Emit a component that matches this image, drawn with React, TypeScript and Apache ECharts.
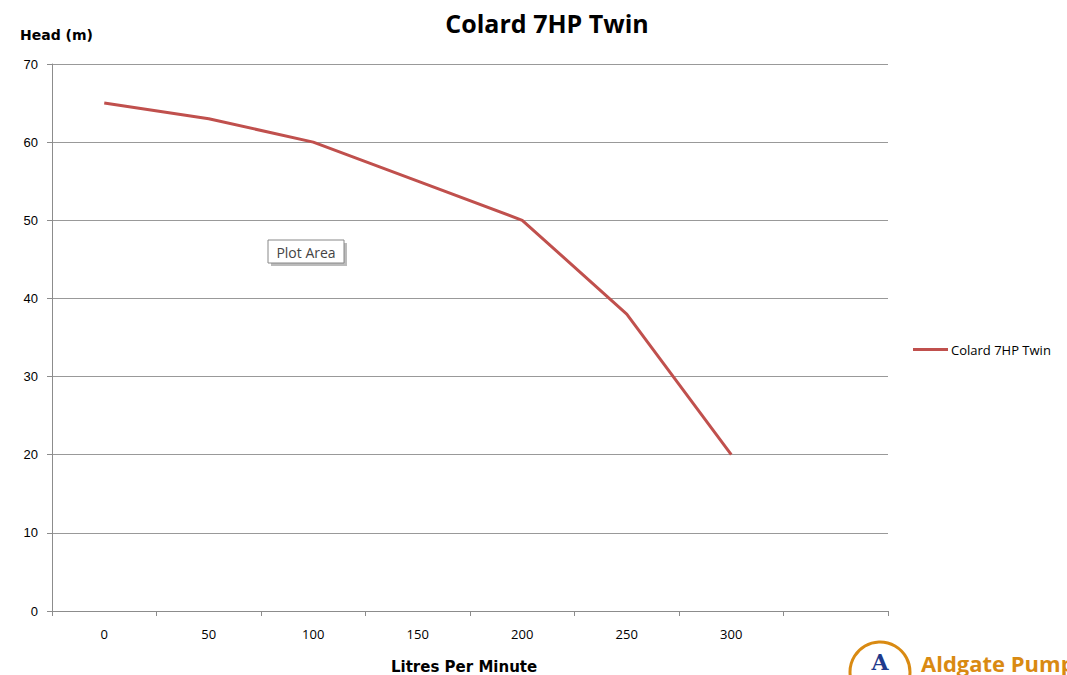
import React, { useEffect, useRef } from "react";
import * as echarts from "echarts";

const categories = ["0", "50", "100", "150", "200", "250", "300", ""];
const headValues = [65, 63, 60, 55, 50, 38, 20];
const seriesName = "Colard 7HP Twin";
const titleText = "Colard 7HP Twin";
const yAxisName = "Head (m)";
const xAxisName = "Litres Per Minute";

export default function App() {
  const ref = useRef<HTMLDivElement>(null);
  useEffect(() => {
    if (!ref.current) return;
    const chart = echarts.init(ref.current, undefined, { renderer: "svg" });
    chart.setOption({
      animation: false,
      backgroundColor: "#ffffff",
      title: {
        text: titleText,
        left: 547,
        textAlign: "center",
        top: 10,
        padding: 0,
        textStyle: { fontFamily: "Open Sans", fontWeight: "bold", fontSize: 25, color: "#000" },
      },
      legend: {
        data: [seriesName],
        left: 913,
        top: 343,
        padding: 0,
        icon: "rect",
        itemWidth: 35,
        itemHeight: 3,
        itemGap: 4,
        textStyle: { fontFamily: "Open Sans", fontSize: 13, color: "#000", padding: [0, 0, 0, -2] },
      },
      grid: { left: 52, right: 179, top: 64, bottom: 64, containLabel: false },
      graphic: [
        {
          type: "text",
          left: 20,
          top: 28,
          style: { text: yAxisName, font: "bold 14px 'DejaVu Sans'", fill: "#000" },
        },
        {
          type: "text",
          left: 391,
          top: 659,
          style: { text: xAxisName, font: "bold 15px 'DejaVu Sans'", fill: "#000" },
        },
        {
          type: "rect",
          shape: { x: 271, y: 243, width: 76, height: 23 },
          style: { fill: "#bbbbbb" },
        },
        {
          type: "rect",
          shape: { x: 268, y: 240, width: 76, height: 23 },
          style: { fill: "#ffffff", stroke: "#888888", lineWidth: 1 },
        },
        {
          type: "text",
          x: 306,
          y: 252,
          style: { text: "Plot Area", font: "14px 'Open Sans'", fill: "#444", align: "center", verticalAlign: "middle" },
        },
        {
          type: "circle",
          shape: { cx: 880, cy: 672, r: 30 },
          style: { fill: "#ffffff", stroke: "#d98a12", lineWidth: 3 },
        },
        {
          type: "text",
          x: 880,
          y: 662,
          style: { text: "A", font: "bold 22px 'DejaVu Serif'", fill: "#1f3a8c", align: "center", verticalAlign: "middle" },
        },
        {
          type: "text",
          left: 921,
          top: 652,
          style: { text: "Aldgate Pump", font: "bold 22px 'Open Sans'", fill: "#d98a12" },
        },
      ],
      xAxis: {
        type: "category",
        data: categories,
        boundaryGap: true,
        axisLine: { lineStyle: { color: "#8c8c8c", width: 1 } },
        axisTick: { show: true, alignWithLabel: false, length: 5, interval: 0, lineStyle: { color: "#8c8c8c" } },
        axisLabel: { margin: 16, interval: 0, fontFamily: "Open Sans", fontSize: 13, color: "#000" },
        splitLine: { show: false },
      },
      yAxis: {
        type: "value",
        min: 0,
        max: 70,
        interval: 10,
        axisLine: { show: true, lineStyle: { color: "#8c8c8c", width: 1 } },
        axisTick: { show: true, length: 5, lineStyle: { color: "#8c8c8c" } },
        axisLabel: { margin: 14, fontFamily: "Liberation Sans", fontSize: 13, color: "#000" },
        splitLine: { show: true, lineStyle: { color: "#999999", width: 1 } },
      },
      series: [
        {
          name: seriesName,
          type: "line",
          data: headValues,
          showSymbol: false,
          symbol: "none",
          lineStyle: { color: "#c0504d", width: 3 },
          itemStyle: { color: "#c0504d" },
        },
      ],
    });
    return () => chart.dispose();
  }, []);
  return (
    <div
      ref={ref}
      style={{ position: "fixed", left: 0, top: 0, width: 1067, height: 675 }}
    />
  );
}
